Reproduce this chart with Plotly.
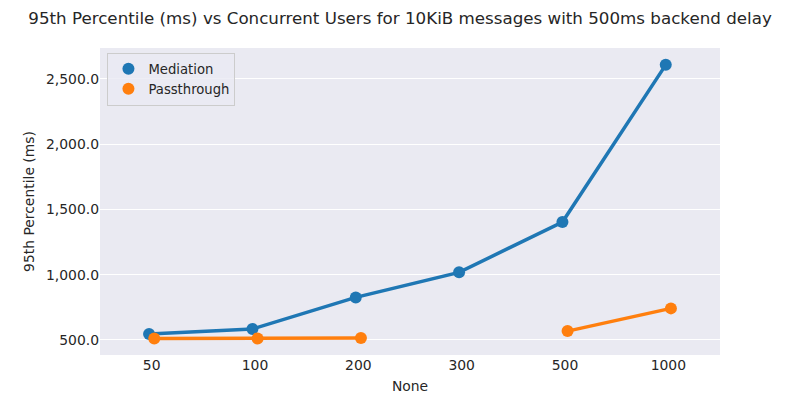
import plotly.graph_objects as go

categories = ["50", "100", "200", "300", "500", "1000"]
mediation = [546, 584, 826, 1018, 1403, 2607]
passthrough = [512, 512, 516, None, 568, 742]
series_names = ["Mediation", "Passthrough"]
colors = ["#1f77b4", "#ff7f0e"]

dodge = 0.025
xs = list(range(len(categories)))

fig = go.Figure()
for name, vals, col, off in zip(series_names, [mediation, passthrough], colors, [-dodge, dodge]):
    fig.add_trace(go.Scatter(
        x=[x + off for x in xs], y=vals, name=name, showlegend=False,
        mode="lines+markers", line=dict(color=col, width=3.5),
        marker=dict(size=12, color=col), connectgaps=False))
for name, col in zip(series_names, colors):
    fig.add_trace(go.Scatter(
        x=[None], y=[None], name=name, mode="markers",
        marker=dict(size=12, color=col), showlegend=True))

fig.update_layout(
    width=792, height=392,
    margin=dict(l=92, r=80, t=40, b=45),
    paper_bgcolor="white", plot_bgcolor="#eaeaf2",
    font=dict(family="DejaVu Sans", size=13.9, color="#262626"),
    title=dict(text="95th Percentile (ms) vs Concurrent Users for 10KiB messages with 500ms backend delay",
               x=0.495, xanchor="center", y=0.99, yanchor="top",
               font=dict(size=16.7, color="#262626")),
    showlegend=True,
    legend=dict(x=0.012, y=0.985, xanchor="left", yanchor="top",
                bgcolor="rgba(234,234,242,0.8)", bordercolor="#cccccc", borderwidth=1,
                font=dict(size=13.2)),
    xaxis=dict(range=[-0.5, 5.5], tickvals=xs, ticktext=categories,
               showgrid=False, zeroline=False, ticks="", automargin=False,
               title=dict(text="None", font=dict(size=13.9), standoff=9)),
    yaxis=dict(range=[385, 2736], tickvals=[500, 1000, 1500, 2000, 2500],
               ticktext=["500.0", "1,000.0", "1,500.0", "2,000.0", "2,500.0"],
               showgrid=True, gridcolor="white", gridwidth=1, zeroline=False, ticks="",
               automargin=False,
               title=dict(text="95th Percentile (ms)", font=dict(size=13.9), standoff=8)),
)

fig.write_html("out.html")
